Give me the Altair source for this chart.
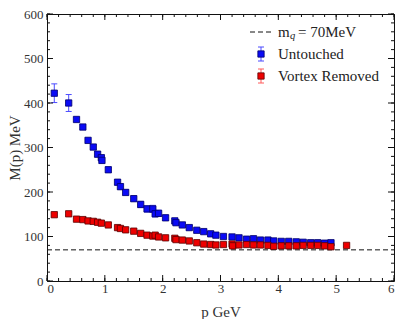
import altair as alt
import pandas as pd

# ---- data ----
blue_p = [0.126, 0.375, 0.51, 0.62, 0.71, 0.80, 0.875, 0.94, 0.95, 1.06, 1.22, 1.27, 1.36, 1.50,
          1.62, 1.73, 1.83, 1.87, 1.93, 2.05, 2.21, 2.23, 2.34, 2.46, 2.59, 2.71, 2.83, 2.92,
          3.05, 3.20, 3.32, 3.45, 3.57, 3.69, 3.82, 3.92, 4.05, 4.18, 4.31, 4.43, 4.56, 4.68,
          4.80, 4.91]
blue_m = [422, 400, 363, 346, 316, 301, 285, 277, 271, 250, 222, 212, 199, 185,
          172, 162, 162, 151, 152, 142, 135, 131, 126, 120, 114, 111, 106, 103,
          100, 99, 97, 94, 95, 92, 92, 90, 89, 89, 88, 87, 86, 86,
          85, 86]
blue_err = [21, 19, 5, 5, 5, 5, 6, 6, 6, 6, 6, 6, 6, 6,
            7, 7, 8, 7, 7, 6, 6, 5, 5, 5, 4, 4, 4, 3,
            3, 3, 3, 3, 3, 3, 3, 3, 3, 3, 3, 3, 3, 3,
            3, 3]

red_p = [0.126, 0.375, 0.51, 0.62, 0.71, 0.80, 0.875, 0.94, 1.06, 1.22, 1.27, 1.36, 1.50,
         1.62, 1.73, 1.83, 1.87, 1.93, 2.05, 2.21, 2.23, 2.34, 2.46, 2.59, 2.71, 2.83, 2.92,
         3.05, 3.20, 3.21, 3.32, 3.45, 3.57, 3.69, 3.82, 3.92, 4.05, 4.18, 4.31, 4.43, 4.56,
         4.68, 4.80, 4.91, 5.18]
red_m = [149, 151, 139, 138, 135, 134, 132, 130, 126, 120, 118, 115, 112,
         107, 103, 101, 103, 99, 97, 96, 93, 92, 90, 86, 83, 82, 81,
         82, 83, 79, 81, 82, 81, 81, 80, 78, 79, 79, 79, 80, 80,
         80, 79, 77, 80]
red_err = [3] * len(red_p)

mq = 70
x_major = [0, 1, 2, 3, 4, 5, 6]
y_major = [0, 100, 200, 300, 400, 500, 600]
x_minor = [round(i * 0.2, 1) for i in range(31)]
y_minor = [i * 20 for i in range(31)]

legend_labels = ["Untouched", "Vortex Removed"]

W, H = 347, 267
FONT = "Liberation Serif"
BLUE, BLUE_E, BLUE_S = "#0a0af5", "#4b4bff", "#00006a"
RED, RED_E, RED_S = "#ee0000", "#ff5a5a", "#5a0000"

blue = pd.DataFrame({"p": blue_p, "m": blue_m, "e": blue_err})
blue["lo"] = blue.m - blue.e
blue["hi"] = blue.m + blue.e
red = pd.DataFrame({"p": red_p, "m": red_m, "e": red_err})
red["lo"] = red.m - red.e
red["hi"] = red.m + red.e

xs = alt.Scale(domain=[0, 6], nice=False, zero=False)
ys = alt.Scale(domain=[0, 600], nice=False, zero=False)
XAX = alt.Axis(values=x_major, title="p GeV", ticks=False, domain=False,
               grid=False, labelPadding=1, titlePadding=9, format="d")
YAX = alt.Axis(values=y_major, title="M(p) MeV", ticks=False, domain=False,
               grid=False, labelPadding=4, titlePadding=1, format="d")


def XE(f):
    return alt.X(f, scale=xs, axis=XAX)


def YE(f):
    return alt.Y(f, scale=ys, axis=YAX)


# dashed reference line
dash = alt.Chart(pd.DataFrame({"x": [0], "x2": [6], "y": [mq]})).mark_rule(
    color="#111", strokeWidth=1, strokeDash=[5, 3]).encode(
    x=XE("x:Q"), x2="x2:Q", y=YE("y:Q"))


def series(df, fill, ecol, scol):
    base = alt.Chart(df)
    bar = base.mark_rule(color=ecol, strokeWidth=1).encode(
        x=XE("p:Q"), y=YE("lo:Q"), y2="hi:Q")
    cap_lo = base.mark_rule(color=ecol, strokeWidth=1, xOffset=-3, x2Offset=3).encode(
        x=XE("p:Q"), x2="p:Q", y=YE("lo:Q"))
    cap_hi = base.mark_rule(color=ecol, strokeWidth=1, xOffset=-3, x2Offset=3).encode(
        x=XE("p:Q"), x2="p:Q", y=YE("hi:Q"))
    pts = base.mark_point(shape="square", filled=True, size=40, fill=fill, stroke=scol,
                          strokeWidth=0.8, opacity=1).encode(x=XE("p:Q"), y=YE("m:Q"))
    return [bar, cap_lo, cap_hi, pts]


# inward ticks
def ticks_x(vals, ln):
    d = alt.Chart(pd.DataFrame({"v": vals}))
    b = d.mark_rule(color="#111", strokeWidth=1).encode(
        x=XE("v:Q"), y=alt.value(H), y2=alt.value(H - ln))
    t = d.mark_rule(color="#111", strokeWidth=1).encode(
        x=XE("v:Q"), y=alt.value(0), y2=alt.value(ln))
    return [b, t]


def ticks_y(vals, ln):
    d = alt.Chart(pd.DataFrame({"v": vals}))
    l = d.mark_rule(color="#111", strokeWidth=1).encode(
        y=YE("v:Q"), x=alt.value(0), x2=alt.value(ln))
    r = d.mark_rule(color="#111", strokeWidth=1).encode(
        y=YE("v:Q"), x=alt.value(W), x2=alt.value(W - ln))
    return [l, r]


tick_layers = ticks_x(x_major, 6) + ticks_x(x_minor, 3) + ticks_y(y_major, 6) + ticks_y(y_minor, 3)

# legend (manual)
one = alt.Chart(pd.DataFrame({"a": [0]}))
LX = 214  # marker x in plot px
TX = 231  # text x
L0 = 18
leg = [
    one.mark_rule(color="#111", strokeWidth=1, strokeDash=[5, 3]).encode(
        x=alt.value(203), x2=alt.value(224), y=alt.value(L0)),
    one.mark_text(text="m", font=FONT, fontSize=15, align="left", baseline="middle", color="#222").encode(
        x=alt.value(TX), y=alt.value(L0)),
    one.mark_text(text="q", font=FONT, fontSize=10.5, fontStyle="italic", align="left", baseline="middle",
                  color="#222").encode(x=alt.value(TX + 12), y=alt.value(L0 + 4)),
    one.mark_text(text="= 70MeV", font=FONT, fontSize=15, align="left", baseline="middle", color="#222").encode(
        x=alt.value(TX + 20), y=alt.value(L0)),
]
for i, (lab, fill, ecol, scol) in enumerate([(legend_labels[0], BLUE, BLUE_E, BLUE_S),
                                             (legend_labels[1], RED, RED_E, RED_S)]):
    yy = L0 + 22 * (i + 1)
    leg += [
        one.mark_rule(color=ecol, strokeWidth=1).encode(x=alt.value(LX), y=alt.value(yy - 7), y2=alt.value(yy + 7)),
        one.mark_rule(color=ecol, strokeWidth=1).encode(x=alt.value(LX - 3), x2=alt.value(LX + 3), y=alt.value(yy - 7)),
        one.mark_rule(color=ecol, strokeWidth=1).encode(x=alt.value(LX - 3), x2=alt.value(LX + 3), y=alt.value(yy + 7)),
        one.mark_point(shape="square", filled=True, size=40, fill=fill, stroke=scol, strokeWidth=0.8,
                       opacity=1).encode(x=alt.value(LX), y=alt.value(yy)),
        one.mark_text(text=lab, font=FONT, fontSize=15, align="left", baseline="middle", color="#222").encode(
            x=alt.value(TX), y=alt.value(yy)),
    ]

layers = [dash] + series(blue, BLUE, BLUE_E, BLUE_S) + series(red, RED, RED_E, RED_S) + tick_layers + leg

chart = alt.layer(*layers).properties(
    width=W, height=H,
    autosize=alt.AutoSizeParams(type="none"),
    padding={"left": 39, "top": 6, "right": 2, "bottom": 38},
).configure_view(stroke="#111", strokeWidth=1).configure_axis(
    labelFont=FONT, labelFontSize=13, labelColor="#333",
    titleFont=FONT, titleFontSize=15, titleFontWeight="normal", titleColor="#333",
)

chart.save("out.html", embed_options={"renderer": "svg", "actions": False})
